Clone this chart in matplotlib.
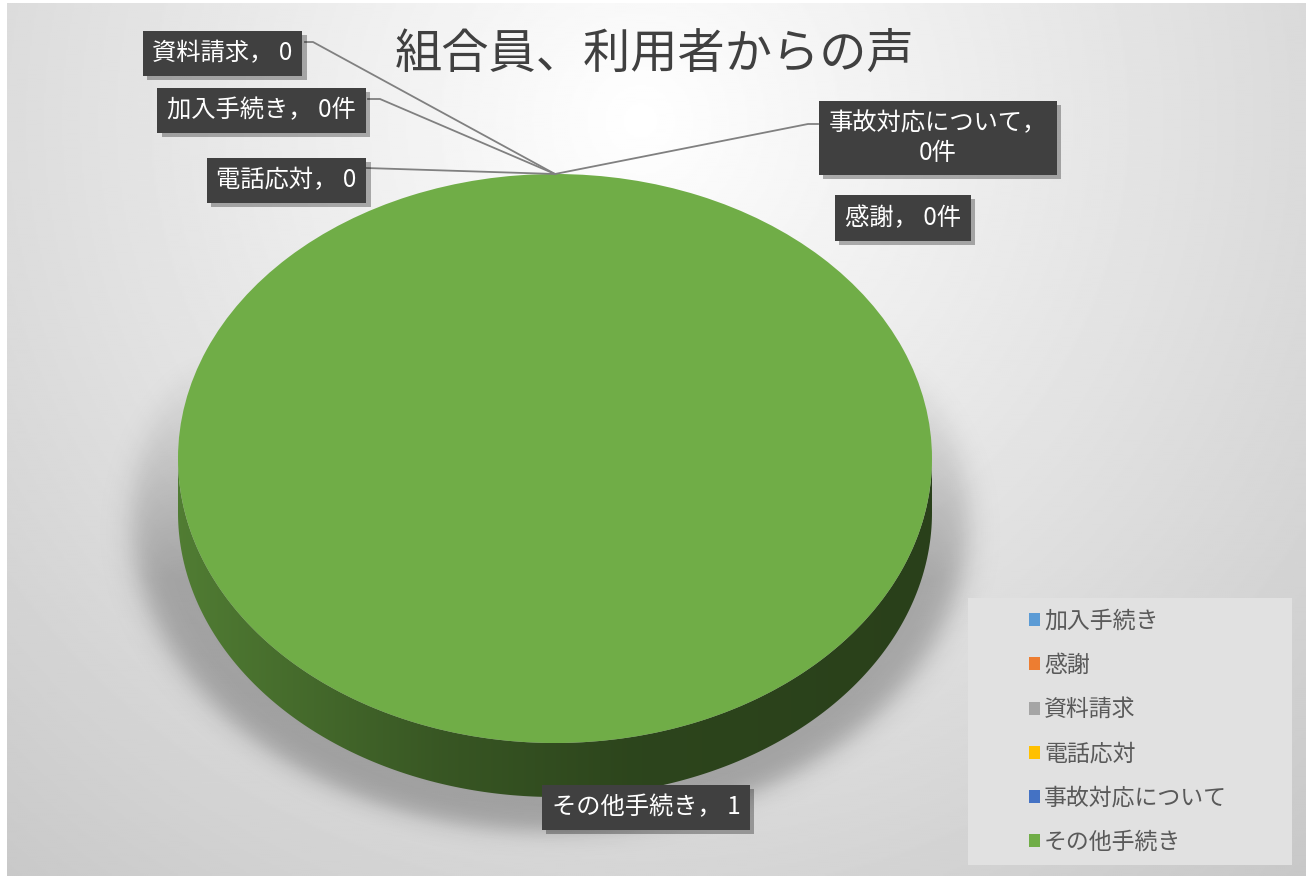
import numpy as np
import matplotlib
matplotlib.use("Agg")
import matplotlib.pyplot as plt
from matplotlib.colors import to_rgb
from matplotlib.patches import Polygon, Rectangle
from matplotlib import patheffects as pe

plt.rcParams['font.family'] = ['Noto Sans CJK JP', 'DejaVu Sans']

title = "組合員、利用者からの声"
categories = ["加入手続き", "感謝", "資料請求", "電話応対", "事故対応について", "その他手続き"]
counts = [0, 0, 0, 0, 0, 1]
units = ["件", "件", "", "", "件", ""]
colors = ["#5b9bd5", "#ed7d31", "#a5a5a5", "#ffc000", "#4472c4", "#70ad47"]

W, H = 1313, 876
# ellipse of the pie top (pixels) and thickness of the rim
cx, cy, rx, ry, depth = 555, 458.5, 377, 284.5, 54

fig = plt.figure(figsize=(W / 100, H / 100), dpi=100)
fig.patch.set_facecolor('white')

# ---- background: soft radial grey + drop shadow under the pie ----
bg = fig.add_axes([0, 0, 1, 1], zorder=0)
x0, x1, y0, y1 = 7, 1306, 3, H
xs = np.linspace(x0, x1, 650)
ys = np.linspace(y0, y1, 440)
xx, yy = np.meshgrid(xs, ys)
dist = np.hypot(xx - 640, yy - 120)
shade = np.clip(255 - 0.055 * dist, 195, 255) / 255
bg.imshow(shade, cmap='gray', vmin=0, vmax=1, extent=[x0, x1, y1, y0],
          interpolation='bilinear', zorder=0)

r = np.hypot((xx - 550) / 418, (yy - 520) / 312)
edge = 1 / (1 + np.exp(-(1 - r) / 0.02))
ramp = np.clip((yy - 350) / 230, 0, 1)
shadow = np.zeros(xx.shape + (4,))
shadow[..., 3] = 0.26 * edge * ramp
bg.imshow(shadow, extent=[x0, x1, y1, y0], interpolation='bilinear', zorder=1)
bg.set_xlim(0, W)
bg.set_ylim(H, 0)
bg.set_aspect('auto')
bg.axis('off')

# ---- pie: unit circle squashed into the top ellipse ----
ax = fig.add_axes([0, 0, 1, 1], zorder=1)
wedges, _ = ax.pie(counts, colors=colors, startangle=90, counterclock=False,
                   radius=1, wedgeprops=dict(linewidth=0))

dz = depth / ry
gx = np.linspace(-1, 1, 400)
fade = np.interp(gx, [-1, -0.3, 0.2, 1], [0.72, 0.5, 0.4, 0.37])
for w in wedges:
    base = np.array(to_rgb(w.get_facecolor()))
    for lo, hi in ((-180, 0), (180, 360)):
        t1, t2 = max(w.theta1, lo), min(w.theta2, hi)
        if t2 <= t1:
            continue
        t = np.radians(np.linspace(t1, t2, 240))
        rim = np.column_stack([np.cos(t), np.sin(t)])
        side = Polygon(np.vstack([rim, rim[::-1] - [0, dz]]), closed=True,
                       fc='none', ec='none')
        ax.add_patch(side)
        img = (base[None, :] * fade[:, None])[None, :, :]
        im = ax.imshow(img, extent=[-1, 1, -1 - dz, 0], aspect='auto',
                       interpolation='bilinear', zorder=0.5)
        im.set_clip_path(side)

ax.set_xlim(-cx / rx, (W - cx) / rx)
ax.set_ylim((cy - H) / ry, cy / ry)
ax.set_aspect('auto')
ax.axis('off')
ax.patch.set_alpha(0)

# ---- title, data labels, leader lines, legend ----
top = fig.add_axes([0, 0, 1, 1], zorder=2)
top.set_xlim(0, W)
top.set_ylim(H, 0)
top.axis('off')
top.patch.set_alpha(0)

top.text(655, 55, title, fontsize=34, color='#404040', ha='center', va='center')

label_pos = [(261.5, 110.5), (903, 218), (222.5, 53.5), (286.5, 180.5),
             (938, 138), (646, 807.5)]
leader_pts = {0: [(368, 99), (380, 99)], 2: [(305, 42), (313, 42)],
              3: [(366, 168)], 4: [(818, 124), (808, 124)]}

for i, (cat, n, unit) in enumerate(zip(categories, counts, units)):
    sep = "，\n" if len(cat) > 6 else "， "
    t = top.text(*label_pos[i], f"{cat}{sep}{n}{unit}", fontsize=17.5, color='white',
                 ha='center', va='center', linespacing=1.15, zorder=5,
                 bbox=dict(boxstyle='square,pad=0.4', fc='#404040', ec='none'))
    t.get_bbox_patch().set_path_effects(
        [pe.withSimplePatchShadow(offset=(3, -3), shadow_rgbFace='black', alpha=0.3)])
    if i in leader_pts:
        ang = np.radians(wedges[i].theta1)
        anchor = (cx + rx * np.cos(ang), cy - ry * np.sin(ang))
        pts = leader_pts[i] + [anchor]
        top.plot([p[0] for p in pts], [p[1] for p in pts], color='#808080',
                 lw=1.3, zorder=4)

top.add_patch(Rectangle((968, 598), 324, 267, fc='#e1e1e1', ec='none', zorder=3))
leg = top.legend(wedges, categories, loc='upper left',
                 bbox_to_anchor=(1029 / W, 1 - 610 / H), bbox_transform=fig.transFigure,
                 frameon=False, fontsize=16.5, handlelength=0.5, handleheight=0.5,
                 handletextpad=0.15, labelspacing=0.92, borderpad=0, borderaxespad=0,
                 labelcolor='#595959')
leg.set_zorder(6)

fig.savefig("out.png", dpi=100, facecolor=fig.get_facecolor())
